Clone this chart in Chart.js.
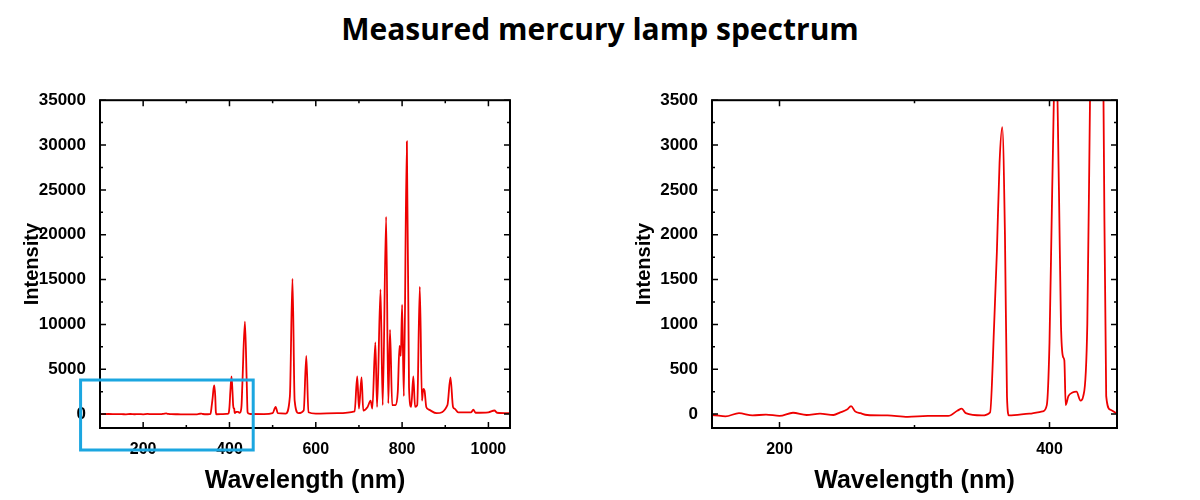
<!DOCTYPE html>
<html>
<head>
<meta charset="UTF-8">
<script src="https://cdn.jsdelivr.net/npm/chart.js"></script>
<style>
  body { margin: 0; width: 1200px; height: 500px; background: #fff; font-family: "Open Sans", Arial, sans-serif; position: relative; overflow: hidden; }
  h1 { position: absolute; top: 8px; left: 0; width: 1200px; text-align: center; margin: 0; font-size: 30px; font-weight: 700; color: #000; }
  .box { position: absolute; top: 84px; height: 416px; }
</style>
</head>
<body>
<h1>Measured mercury lamp spectrum</h1>
<div class="box" style="left:20px;width:500px"><canvas id="left"></canvas></div>
<div class="box" style="left:632px;width:495px"><canvas id="right"></canvas></div>
<script>
// spectrum (nm, counts)
const wavelength = [100,120,140,150,160,170,180,190,200,210,220,230,240,245,250,253,256,260,265,280,295,310,325,332,335,338,350,356,359,361,363,365,367,368.5,370,385,395,398,400,402,404.7,407,408.5,410,411,412,414,417,420,423,425,428,430,435.8,440,442,445,450,480,500,507,512,530,540,546,551,560,572,578,583,600,650,690,696,700,706,710,720,727,731,738,742,750,755,763,768,772,777,785,790,794,797,800,804,811,816,821,826,830,835,841,846,849,852,856,862,880,905,912,918,922,930,960,965,970,1000,1014,1020,1050];
const intensity = [0,10,-10,-10,-25,10,-15,-5,-20,15,-10,5,-10,20,50,90,30,10,-10,-15,-30,-20,-20,40,60,10,-15,20,1000,1800,2800,3200,2000,200,-15,5,30,100,800,2500,4200,2500,1000,640,600,100,200,240,250,150,200,1000,3500,10300,3500,200,50,10,0,100,800,100,50,2000,15100,1500,100,400,6500,200,50,100,300,4200,600,4100,400,800,1500,600,8000,800,13900,1000,22000,1200,9400,1000,1000,2500,7600,6500,12200,2000,30400,3000,800,4200,800,1000,14200,1500,2800,2600,800,500,100,1000,4100,800,600,200,200,500,150,200,400,150,100];
const points = wavelength.map((w, i) => ({ x: w, y: intensity[i] }));

const leftXRange = [100, 1050], leftYRange = [-1550, 35000];
const rightXRange = [150, 450], rightYRange = [-155, 3500];
const highlight = { x0: 55, x1: 455, y1: 3800 };

const frame = {
  id: 'frame',
  afterDraw(chart) {
    const { ctx, chartArea: a, scales } = chart;
    const opt = chart.options.plugins.frame;
    ctx.save();
    ctx.strokeStyle = '#000';
    ctx.lineWidth = 2;
    ctx.strokeRect(a.left, a.top, a.right - a.left, a.bottom - a.top);
    ctx.lineWidth = 1.5;
    scales.x.ticks.forEach(t => {
      const px = scales.x.getPixelForValue(t.value);
      const len = (t.value % opt.xMajor === 0) ? 6 : 3;
      ctx.beginPath();
      ctx.moveTo(px, a.bottom); ctx.lineTo(px, a.bottom - len);
      ctx.moveTo(px, a.top); ctx.lineTo(px, a.top + len);
      ctx.stroke();
    });
    scales.y.ticks.forEach(t => {
      const py = scales.y.getPixelForValue(t.value);
      const len = (t.value % opt.yMajor === 0) ? 6 : 3;
      ctx.beginPath();
      ctx.moveTo(a.left, py); ctx.lineTo(a.left + len, py);
      ctx.moveTo(a.right, py); ctx.lineTo(a.right - len, py);
      ctx.stroke();
    });
    if (opt.box) {
      const x0 = scales.x.getPixelForValue(opt.box.x0);
      const x1 = scales.x.getPixelForValue(opt.box.x1);
      const y1 = scales.y.getPixelForValue(opt.box.y1);
      ctx.strokeStyle = '#1ba6e0';
      ctx.lineWidth = 3;
      ctx.strokeRect(x0, y1, x1 - x0, a.bottom + 22 - y1);
    }
    ctx.restore();
  }
};

function stepTicks(step) {
  return s => {
    const out = [];
    for (let v = Math.ceil(s.min / step) * step; v <= s.max; v += step) out.push({ value: v });
    s.ticks = out;
  };
}

function makeChart(id, xr, yr, xMajor, xStep, yMajor, yStep, box) {
  return new Chart(document.getElementById(id), {
    type: 'line',
    data: { datasets: [{ data: points, borderColor: '#ee0000', borderWidth: 1.8, pointRadius: 0, cubicInterpolationMode: 'monotone', fill: false }] },
    options: {
      responsive: true, maintainAspectRatio: false, animation: false,
      layout: { padding: { top: 14, right: 10, left: 0, bottom: 0 } },
      plugins: { legend: { display: false }, tooltip: { enabled: false }, frame: { xMajor, yMajor, box } },
      scales: {
        x: {
          type: 'linear', min: xr[0], max: xr[1],
          grid: { display: false }, border: { display: false },
          ticks: { color: '#000', padding: 4, autoSkip: false, maxRotation: 0, font: { size: 16, weight: 'bold', family: 'Arial' },
            callback: v => (v % xMajor === 0 ? v : '') },
          title: { display: true, text: 'Wavelength (nm)', color: '#000', font: { size: 25, weight: 'bold', family: 'Arial' }, padding: { top: 6 } },
          afterFit: s => { s.height = 72; },
          afterBuildTicks: stepTicks(xStep)
        },
        y: {
          min: yr[0], max: yr[1],
          grid: { display: false }, border: { display: false },
          ticks: { color: '#000', padding: 6, autoSkip: false, font: { size: 17, weight: 'bold', family: 'Arial' },
            callback: v => (v % yMajor === 0 ? v : '') },
          title: { display: true, text: 'Intensity', color: '#000', font: { size: 20, weight: 'bold', family: 'Arial' }, padding: 0 },
          afterFit: s => { s.width = 80; },
          afterBuildTicks: stepTicks(yStep)
        }
      }
    },
    plugins: [frame]
  });
}

makeChart('left', leftXRange, leftYRange, 200, 100, 5000, 2500, highlight);
makeChart('right', rightXRange, rightYRange, 200, 100, 500, 250, null);
</script>
</body>
</html>
